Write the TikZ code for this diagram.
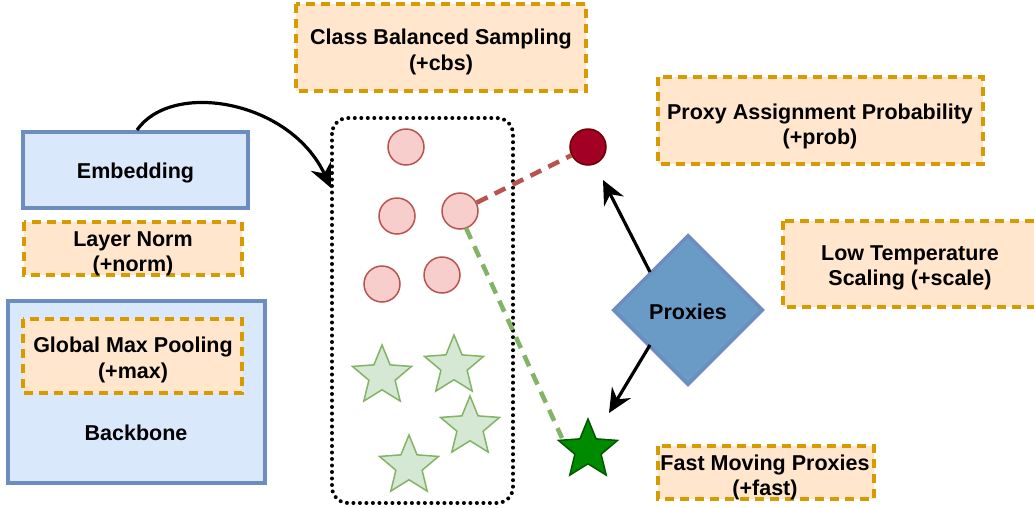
\documentclass[tikz,border=0pt]{standalone}
\usepackage{fontspec}
\setmainfont{Liberation Sans}
\usetikzlibrary{shapes.geometric,arrows.meta}
\definecolor{bfill}{HTML}{DAE8FC}
\definecolor{bstroke}{HTML}{6C8EBF}
\definecolor{ofill}{HTML}{FFE6CC}
\definecolor{ostroke}{HTML}{D79B00}
\definecolor{pfill}{HTML}{F8CECC}
\definecolor{pstroke}{HTML}{B85450}
\definecolor{gfill}{HTML}{D5E8D4}
\definecolor{gstroke}{HTML}{82B366}
\definecolor{drfill}{HTML}{A20025}
\definecolor{drstroke}{HTML}{6F0000}
\definecolor{dgfill}{HTML}{008A00}
\definecolor{dgstroke}{HTML}{005700}
\definecolor{dfill}{HTML}{6A9BC7}
\begin{document}
\begin{tikzpicture}[x=1pt,y=-1pt,
  every node/.style={font=\fontsize{21.5}{25.5}\selectfont\bfseries, align=center, inner sep=0pt},
  bluebox/.style={draw=bstroke, fill=bfill, line width=4pt},
  optbox/.style={draw=ostroke, fill=ofill, line width=3.5pt, dash pattern=on 9pt off 6pt},
  pinkdot/.style={circle, draw=pstroke, fill=pfill, line width=1.5pt, minimum size=36pt},
  lstar/.style={star, star points=5, star point ratio=2.25, draw=gstroke, fill=gfill, line width=1.5pt, minimum size=62pt},
  arr/.style={line width=3.2pt, -{Stealth[length=24pt,width=22pt,inset=8pt]}}
]
\useasboundingbox (0,0) rectangle (1034,507);
% left boxes
\draw[bluebox] (23,132) rectangle (248,208);
\node (emb) at (135.5,173) {Embedding};
\coordinate (embtop) at (137,130);
\draw[optbox] (24,222) rectangle (242,275);
\node (ln) at (133,254) {Layer Norm\\(+norm)};
\draw[bluebox] (8,301) rectangle (265,483);
\node (bb) at (136,433) {Backbone};
\draw[optbox] (23,319) rectangle (242,393);
\node (gmp) at (133,360) {Global Max Pooling\\(+max)};
% top box
\draw[optbox] (296,4) rectangle (586,91);
\node (cbs) at (441,52) {Class Balanced Sampling\\(+cbs)};
% right boxes
\draw[optbox] (658,77) rectangle (983,164);
\node (pap) at (820,126.5) {Proxy Assignment Probability\\(+prob)};
\draw[optbox] (783,221) rectangle (1040,307);
\node (lts) at (910,268) {Low Temperature\\Scaling (+scale)};
\draw[optbox] (658,446) rectangle (874,499);
\node (fmp) at (765,477.5) {Fast Moving Proxies\\(+fast)};
% dotted batch box
\draw[line width=4pt, dash pattern=on 0pt off 6.5pt, line cap=round, rounded corners=16pt] (332,118) rectangle (513,503);
\coordinate (batchin) at (331,188);
% circles
\node[pinkdot] (c1) at (406,147) {};
\node[pinkdot] (c2) at (397,216) {};
\node[pinkdot] (c3) at (460,211) {};
\node[pinkdot] (c4) at (382,284) {};
\node[pinkdot] (c5) at (442,275) {};
% stars
\node[lstar] (s1) at (382,376) {};
\node[lstar] (s2) at (454,366) {};
\node[lstar] (s3) at (470,427) {};
\node[lstar] (s4) at (409,466) {};
% proxies
\node[circle, draw=drstroke, fill=drfill, line width=1.5pt, minimum size=36pt] (pc) at (588,147) {};
\node[star, star points=5, star point ratio=2.25, draw=dgstroke, fill=dgfill, line width=1.5pt, minimum size=62pt] (ps) at (588,450) {};
\node[diamond, draw=bstroke, fill=dfill, line width=3.5pt, minimum width=150pt, minimum height=150pt, aspect=1] (prox) at (688,310) {};
\node at (688,312) {Proxies};
% dashed links
\draw[pstroke, line width=4.5pt, dash pattern=on 12pt off 8pt] (c3) -- (pc);
\draw[gstroke, line width=4.5pt, dash pattern=on 12pt off 8pt] (466,228) -- (562,438);
% arrows
\draw[arr] (embtop) .. controls (172,80) and (290,100) .. (batchin);
\draw[arr] (650,272) -- (603,180);
\draw[arr] (650,345) -- (609,413);
\end{tikzpicture}
\end{document}
